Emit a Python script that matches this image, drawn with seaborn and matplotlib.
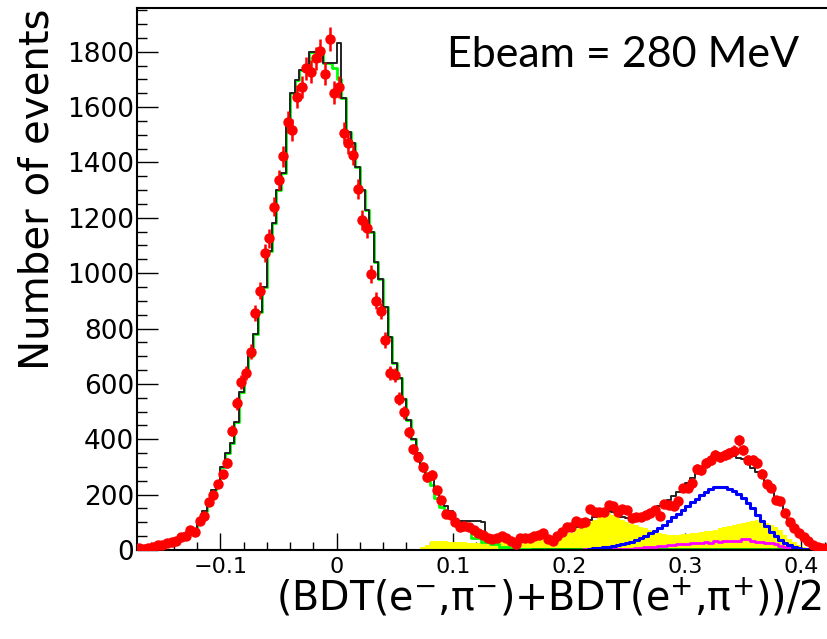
import numpy as np
import pandas as pd
import matplotlib
matplotlib.use("Agg")
import matplotlib.pyplot as plt
import seaborn as sns
from matplotlib.ticker import MultipleLocator, FuncFormatter

# 150 bins of width 0.004 starting at -0.172
edges = np.round(-0.172 + 0.004 * np.arange(151), 4)
centers = 0.5 * (edges[:-1] + edges[1:])

data_counts = [
    6, 5, 8, 12, 17, 19, 25, 29, 33, 48,
    52, 72, 66, 106, 124, 172, 199, 238, 273, 315,
    431, 530, 606, 640, 716, 855, 937, 1074, 1126, 1240,
    1337, 1423, 1547, 1517, 1638, 1672, 1740, 1728, 1776, 1804,
    1720, 1845, 1652, 1672, 1508, 1469, 1427, 1304, 1192, 1162,
    997, 901, 863, 759, 641, 632, 546, 497, 425, 365,
    337, 299, 263, 271, 216, 180, 131, 126, 100, 83,
    85, 83, 74, 62, 54, 44, 38, 44, 50, 45,
    34, 22, 42, 44, 44, 50, 54, 62, 40, 34,
    50, 66, 83, 84, 104, 96, 100, 147, 138, 138,
    137, 163, 160, 138, 147, 143, 115, 120, 120, 126,
    135, 145, 123, 166, 163, 159, 178, 223, 223, 241,
    292, 289, 315, 325, 343, 337, 343, 349, 359, 397,
    361, 325, 325, 315, 275, 238, 223, 181, 178, 135,
    102, 78, 60, 48, 34, 18, 10, 6, 6, 0,
]

mc_total = [
    3, 4, 6, 8, 11, 15, 19, 24, 30, 38,
    48, 60, 75, 100, 140, 172, 217, 247, 300, 349,
    386, 464, 572, 630, 700, 780, 860, 950, 1080, 1180,
    1300, 1361, 1547, 1650, 1698, 1734, 1734, 1798, 1798, 1798,
    1758, 1758, 1758, 1830, 1632, 1511, 1469, 1385, 1300, 1228,
    1150, 1041, 978, 879, 771, 677, 620, 545, 470, 400,
    350, 300, 265, 255, 215, 185, 160, 140, 108, 106,
    106, 105, 105, 104, 100, 42, 40, 38, 40, 40,
    38, 37, 37, 37, 37, 38, 44, 44, 44, 46,
    46, 53, 68, 70, 83, 86, 98, 108, 118, 128,
    138, 142, 136, 128, 120, 114, 112, 112, 114, 120,
    130, 145, 158, 169, 182, 196, 210, 227, 242, 259,
    277, 293, 309, 320, 337, 340, 344, 342, 339, 334,
    327, 312, 296, 280, 262, 240, 218, 192, 165, 135,
    108, 82, 56, 38, 24, 14, 7, 3, 1, 0,
]

mc_pipi = [
    3, 4, 6, 8, 11, 15, 19, 24, 30, 38,
    48, 60, 75, 100, 140, 172, 217, 247, 300, 349,
    386, 464, 572, 630, 700, 780, 860, 950, 1080, 1180,
    1300, 1361, 1547, 1650, 1698, 1734, 1734, 1798, 1798, 1798,
    1758, 1758, 1740, 1700, 1632, 1511, 1469, 1385, 1300, 1228,
    1150, 1041, 978, 879, 771, 677, 620, 545, 470, 400,
    350, 300, 262, 236, 189, 156, 126, 126, 105, 100,
    78, 78, 42, 42, 30, 30, 22, 22, 12, 12,
    6, 5, 5, 4, 4, 3, 3, 3, 2, 2,
    2, 2, 2, 2, 2, 2, 2, 2, 2, 2,
    2, 2, 2, 1, 1, 1, 1, 1, 1, 1,
    1, 0, 0, 0, 0, 0, 0, 0, 0, 0,
    0, 0, 0, 0, 0, 0, 0, 0, 0, 0,
    0, 0, 0, 0, 0, 0, 0, 0, 0, 0,
    0, 0, 0, 0, 0, 0, 0, 0, 0, 0,
]

mc_yellow = [
    0, 0, 0, 0, 0, 0, 0, 0, 0, 0,
    0, 0, 0, 0, 0, 0, 0, 0, 0, 0,
    0, 0, 0, 0, 0, 0, 0, 0, 0, 0,
    0, 0, 0, 0, 0, 0, 0, 0, 0, 0,
    0, 0, 0, 0, 0, 0, 0, 0, 0, 0,
    0, 0, 0, 0, 0, 0, 0, 0, 0, 0,
    0, 11, 18, 32, 32, 32, 32, 30, 30, 30,
    30, 26, 26, 26, 26, 26, 26, 26, 32, 32,
    32, 30, 30, 30, 30, 30, 36, 36, 36, 38,
    38, 45, 60, 62, 75, 78, 90, 100, 110, 124,
    133, 135, 128, 118, 108, 100, 95, 90, 84, 78,
    72, 68, 63, 58, 55, 54, 55, 56, 58, 60,
    62, 64, 67, 70, 74, 78, 82, 86, 90, 94,
    98, 102, 106, 108, 100, 98, 90, 82, 72, 55,
    40, 28, 18, 10, 5, 2, 1, 0, 0, 0,
]

mc_ee = [
    0, 0, 0, 0, 0, 0, 0, 0, 0, 0,
    0, 0, 0, 0, 0, 0, 0, 0, 0, 0,
    0, 0, 0, 0, 0, 0, 0, 0, 0, 0,
    0, 0, 0, 0, 0, 0, 0, 0, 0, 0,
    0, 0, 0, 0, 0, 0, 0, 0, 0, 0,
    0, 0, 0, 0, 0, 0, 0, 0, 0, 0,
    1, 1, 1, 1, 1, 1, 1, 1, 1, 1,
    1, 1, 1, 1, 1, 1, 1, 1, 1, 1,
    1, 1, 1, 1, 1, 1, 1, 1, 1, 1,
    1, 1, 1, 1, 1, 1, 1, 4, 6, 8,
    10, 12, 14, 17, 20, 24, 30, 36, 44, 52,
    62, 70, 80, 92, 106, 118, 130, 146, 158, 172,
    186, 200, 210, 220, 226, 228, 226, 220, 212, 202,
    188, 170, 150, 128, 105, 88, 66, 50, 36, 26,
    18, 12, 8, 5, 3, 2, 1, 0, 0, 0,
]

mc_magenta = [
    1, 1, 1, 1, 1, 1, 1, 1, 1, 1,
    1, 1, 1, 1, 1, 1, 1, 1, 1, 1,
    1, 1, 1, 1, 1, 1, 1, 1, 1, 1,
    1, 1, 1, 1, 1, 1, 1, 1, 1, 1,
    1, 1, 1, 1, 1, 1, 1, 1, 1, 1,
    1, 1, 1, 1, 1, 1, 1, 1, 1, 1,
    1, 1, 1, 1, 1, 1, 1, 1, 1, 1,
    1, 1, 1, 1, 1, 1, 1, 1, 1, 1,
    1, 1, 1, 1, 1, 1, 1, 1, 1, 1,
    1, 1, 1, 1, 1, 1, 2, 2, 3, 3,
    3, 4, 4, 4, 5, 5, 5, 6, 8, 9,
    11, 12, 14, 16, 18, 19, 21, 22, 23, 24,
    26, 26, 29, 27, 34, 30, 33, 31, 34, 33,
    38, 39, 32, 30, 28, 27, 24, 20, 15, 12,
    8, 5, 2, 1, 0, 0, 0, 0, 0, 0,
]

mc_other = [
    0, 0, 0, 0, 0, 0, 0, 0, 0, 0,
    0, 0, 0, 0, 0, 0, 0, 0, 0, 0,
    0, 0, 0, 0, 0, 0, 0, 0, 0, 0,
    0, 0, 0, 0, 0, 0, 0, 0, 0, 0,
    0, 0, 0, 0, 0, 0, 0, 0, 0, 0,
    0, 0, 0, 0, 0, 0, 0, 0, 0, 0,
    0, 0, 0, 0, 0, 0, 0, 0, 0, 0,
    0, 0, 0, 0, 0, 0, 0, 0, 0, 0,
    0, 0, 0, 0, 0, 3, 3, 3, 3, 3,
    3, 3, 3, 3, 3, 3, 3, 3, 3, 3,
    3, 3, 3, 3, 3, 3, 3, 3, 3, 3,
    3, 3, 3, 3, 3, 3, 3, 3, 3, 3,
    3, 3, 3, 3, 3, 3, 3, 3, 3, 3,
    3, 3, 3, 3, 3, 3, 3, 3, 3, 3,
    3, 0, 0, 0, 0, 0, 0, 0, 0, 0,
]

hists = pd.DataFrame({
    "bdt": centers,
    "data": data_counts,
    "total": mc_total,
    "pipi": mc_pipi,
    "yellow": mc_yellow,
    "ee": mc_ee,
    "magenta": mc_magenta,
    "other": mc_other,
})

sns.set_style("ticks")
plt.rcParams["font.family"] = ["DejaVu Sans"]
plt.rcParams["mathtext.fontset"] = "dejavusans"
plt.rcParams["text.color"] = "black"
plt.rcParams["xtick.color"] = "black"
plt.rcParams["ytick.color"] = "black"

fig = plt.figure(figsize=(8.27, 6.39), dpi=100)
ax = fig.add_axes([0.1654, 0.1393, 0.843, 0.8482])

bin_list = edges.tolist()


def draw_hist(col, color, lw, fill=False, z=2):
    kw = dict(data=hists, x="bdt", weights=col, bins=bin_list, element="step", ax=ax)
    if fill:
        sns.histplot(**kw, fill=True, color=color, alpha=1.0, linewidth=0, zorder=z)
    else:
        sns.histplot(**kw, fill=False, color=color, linewidth=lw, zorder=z)


draw_hist("yellow", "#ffff00", 0, fill=True, z=1)
draw_hist("pipi", "#00ff00", 2.0, z=2)
draw_hist("total", "#222222", 1.4, z=2.2)
draw_hist("other", "#00b000", 2.0, z=2.1)
draw_hist("magenta", "#ff00ff", 2.0, z=2.3)
draw_hist("ee", "#0000ff", 2.2, z=2.4)

counts = hists["data"].to_numpy(dtype=float)
ax.errorbar(hists["bdt"], counts, yerr=np.sqrt(counts), fmt="o", color="#ff0000",
            ms=6.5, elinewidth=1.8, capsize=0, zorder=5)

ax.set_xlim(-0.172, 0.428)
ax.set_ylim(0, 1958)
ax.set_xlabel("")
ax.set_ylabel("")

ax.xaxis.set_major_locator(MultipleLocator(0.1))
ax.xaxis.set_minor_locator(MultipleLocator(0.02))
ax.yaxis.set_major_locator(MultipleLocator(200))
ax.yaxis.set_minor_locator(MultipleLocator(50))
ax.xaxis.set_major_formatter(FuncFormatter(
    lambda v, _: "0" if abs(v) < 1e-9 else f"{v:.1f}".replace("-", "\u2212")))

ax.tick_params(axis="x", which="major", direction="in", length=12, width=1,
               labelsize=16, pad=5, top=False)
ax.tick_params(axis="x", which="minor", direction="in", length=5.5, width=1, top=False)
ax.tick_params(axis="y", which="major", direction="in", length=15, width=1,
               labelsize=19, pad=2, right=False)
ax.tick_params(axis="y", which="minor", direction="in", length=7.5, width=1, right=False)

for side in ["left", "bottom", "top"]:
    ax.spines[side].set_visible(True)
    ax.spines[side].set_linewidth(1.5)
    ax.spines[side].set_color("black")
ax.spines["right"].set_visible(False)

fig.text(447 / 827, 1 - 66.7 / 639, "Ebeam = 280 MeV", fontsize=31,
         family=["Lato", "DejaVu Sans"], ha="left", va="baseline")
fig.text(822 / 827, 1 - 611 / 639,
         "(BDT(e$^{-}$,\u03c0$^{-}$)+BDT(e$^{+}$,\u03c0$^{+}$))/2",
         fontsize=28.5, ha="right", va="baseline")
fig.text(38 / 827, 1 - 8 / 639, "Number of events", rotation=90,
         fontsize=29, ha="center", va="top")

fig.savefig("out.png", dpi=100)
